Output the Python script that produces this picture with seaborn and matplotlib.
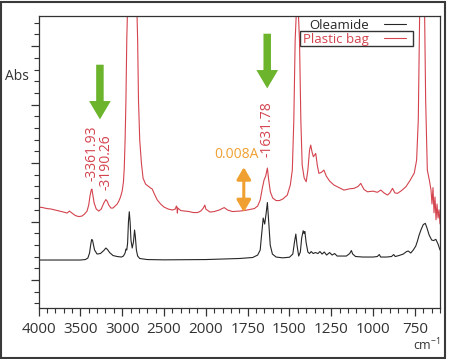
import numpy as np
import pandas as pd
import seaborn as sns
import matplotlib
import matplotlib.pyplot as plt
from matplotlib.patches import Rectangle

matplotlib.use('Agg')

# Spectra: wavenumber (cm-1) and absorbance in mA (x 1e-3)
oleamide_wn = [4000, 3500, 3440, 3410, 3390, 3375, 3365, 3355, 3345, 3330, 3300, 3260,
               3220, 3195, 3175, 3150, 3110, 3060, 3010, 2985, 2965, 2955, 2945, 2935,
               2925, 2915, 2905, 2895, 2880, 2865, 2852, 2843, 2830, 2815, 2790, 2700,
               2500, 2000, 1900, 1800, 1720, 1690, 1675, 1665, 1657, 1648, 1640, 1632,
               1624, 1615, 1602, 1580, 1540, 1500, 1480, 1470, 1462, 1455, 1445, 1435,
               1427, 1418, 1413, 1408, 1400, 1390, 1380, 1370, 1358, 1345, 1330, 1318,
               1305, 1292, 1278, 1260, 1245, 1230, 1215, 1190, 1160, 1140, 1130, 1122,
               1105, 1060, 1000, 975, 963, 955, 920, 890, 877, 868, 845, 820, 800, 790,
               775, 760, 745, 735, 725, 712, 700, 688, 678, 665, 650, 638, 625, 612, 600]
oleamide_abs = [3.42, 3.42, 3.50, 3.76, 4.62, 6.15, 6.92, 6.84, 6.15, 5.13, 4.44, 4.53,
                5.04, 5.47, 5.21, 4.70, 4.19, 4.02, 3.93, 4.10, 4.62, 5.30, 5.13, 6.32,
                9.91, 11.68, 9.91, 6.84, 5.47, 6.50, 8.55, 7.52, 5.13, 4.10, 3.68, 3.50,
                3.45, 3.50, 3.59, 3.68, 3.85, 4.27, 5.13, 8.21, 10.60, 9.57, 11.28, 13.25,
                9.91, 5.98, 4.44, 3.93, 3.79, 3.90, 4.44, 6.50, 7.86, 5.98, 4.10, 4.79,
                7.18, 8.43, 7.95, 8.29, 6.32, 4.79, 4.53, 4.87, 4.53, 4.70, 4.53, 4.87,
                4.44, 4.79, 4.27, 4.70, 4.27, 4.53, 4.10, 4.10, 4.10, 4.53, 5.04, 4.44,
                4.02, 3.93, 3.93, 4.02, 4.36, 3.93, 3.93, 4.02, 4.36, 4.02, 4.19, 4.44,
                4.87, 4.96, 4.62, 5.13, 5.81, 6.67, 7.69, 8.72, 9.49, 9.69, 8.89, 7.69,
                6.84, 6.75, 6.96, 6.15, 5.13]

bag_wn = [4000, 3950, 3900, 3850, 3800, 3750, 3700, 3660, 3630, 3600, 3560, 3520, 3480,
          3450, 3420, 3400, 3385, 3370, 3362, 3350, 3335, 3310, 3280, 3250, 3220, 3195,
          3180, 3160, 3135, 3110, 3085, 3060, 3040, 3020, 3000, 2985, 2975, 2965, 2955,
          2945, 2938, 2900, 2860, 2822, 2815, 2805, 2790, 2770, 2750, 2720, 2690, 2660,
          2640, 2620, 2580, 2540, 2500, 2450, 2400, 2365, 2352, 2345, 2340, 2335, 2300,
          2250, 2200, 2150, 2100, 2060, 2030, 2012, 2000, 1975, 1950, 1920, 1890, 1870,
          1840, 1800, 1770, 1740, 1710, 1690, 1675, 1662, 1652, 1642, 1632, 1624, 1614,
          1600, 1580, 1560, 1540, 1513, 1495, 1483, 1474, 1466, 1460, 1446, 1440, 1432,
          1424, 1412, 1400, 1390, 1380, 1373, 1365, 1357, 1343, 1333, 1324, 1310, 1294,
          1280, 1260, 1234, 1210, 1174, 1140, 1114, 1090, 1074, 1055, 1034, 1000, 975,
          954, 935, 914, 900, 884, 870, 854, 830, 804, 780, 754, 740, 730, 722, 692, 686,
          676, 664, 654, 648, 642, 636, 630, 624, 618, 612, 606, 600]
bag_abs = [12.48, 12.39, 12.22, 12.14, 11.97, 11.79, 11.62, 11.45, 11.79, 11.45, 11.03,
           10.85, 10.94, 11.28, 11.79, 12.82, 14.36, 15.38, 15.56, 14.53, 13.16, 12.14,
           11.79, 12.14, 13.16, 13.76, 13.50, 12.82, 12.31, 12.31, 12.65, 12.99, 13.50,
           14.19, 15.21, 16.75, 19.15, 23.93, 30.77, 41.03, 45.1, 45.1, 45.1, 45.1, 41.0,
           30.8, 23.9, 20.0, 17.4, 16.4, 16.07, 15.73, 15.56, 14.87, 13.68, 12.99, 12.48,
           12.14, 11.97, 12.14, 12.65, 12.48, 11.45, 12.31, 11.88, 11.79, 11.71, 11.54,
           11.54, 11.79, 12.31, 12.82, 12.14, 11.62, 11.71, 11.97, 12.39, 11.97, 11.71,
           11.79, 11.88, 12.05, 12.22, 12.65, 13.68, 15.73, 17.09, 17.78, 19.15, 17.09,
           15.04, 14.02, 13.59, 13.59, 13.85, 14.53, 16.24, 18.80, 27.35, 41.0, 45.1,
           45.1, 41.0, 27.35, 19.66, 17.44, 16.81, 18.80, 22.22, 23.08, 21.88, 21.08,
           21.66, 19.5, 18.24, 18.4, 18.80, 17.78, 16.92, 16.24, 15.9, 15.38, 15.6, 15.68,
           16.0, 16.53, 15.5, 15.09, 15.2, 15.0, 15.38, 14.9, 14.53, 14.9, 15.68, 14.9,
           14.82, 15.3, 15.95, 17.0, 18.3, 20.5, 27.4, 45.1, 45.1, 30.8, 18.8, 17.1, 15.4,
           13.0, 15.8, 11.5, 14.2, 10.3, 13.0, 10.6, 12.0, 9.6]

legend_labels = ['Oleamide', 'Plastic bag']
peak_labels = ['-3361.93', '-3190.26', '-1631.78']
peak_wn = [3362, 3190, 1632]
peak_label_abs = [16.9, 15.4, 21.0]
major_ticks = [4000, 3500, 3000, 2500, 2000, 1750, 1500, 1250, 1000, 750]

red = '#d4434e'
dark = '#262626'
green = '#6cb42c'
orange = '#f0a030'

sns.set_theme(style='ticks')
plt.rcParams['font.family'] = ['Open Sans', 'DejaVu Sans']

df = pd.concat([
    pd.DataFrame({'wn': oleamide_wn, 'A': np.array(oleamide_abs) / 1000, 'sample': 'Oleamide'}),
    pd.DataFrame({'wn': bag_wn, 'A': np.array(bag_abs) / 1000, 'sample': 'Plastic bag'}),
])

fig = plt.figure(figsize=(4.5, 3.59), dpi=100)
ax = fig.add_axes([0.0856, 0.142, 0.893, 0.813])


# FTIR style axis: region below 2000 cm-1 is expanded x2
def fwd(x):
    x = np.asarray(x, dtype=float)
    return np.where(x >= 2000, x, 2 * x - 2000)


def inv(x):
    x = np.asarray(x, dtype=float)
    return np.where(x >= 2000, x, (x + 2000) / 2)


ax.set_xscale('function', functions=(fwd, inv))

sns.lineplot(data=df, x='wn', y='A', hue='sample', palette=[dark, red],
             estimator=None, sort=False, lw=0.8, ax=ax, legend=False)

ax.set_xlim(4000, 598)
ax.set_ylim(-0.00479, 0.04513)
ax.set_xticks(major_ticks)
ax.set_xticklabels([str(t) for t in major_ticks])
minors = [t for t in list(range(3900, 2000, -100)) + list(range(1950, 599, -50))
          if t not in major_ticks]
ax.set_xticks(minors, minor=True)
ax.set_yticks(np.arange(0, 0.045, 0.01))
ax.set_yticks(np.arange(-0.004, 0.045, 0.002), minor=True)
ax.set_yticklabels([])
ax.tick_params(axis='both', which='major', length=6, width=0.9, color='#333333',
               direction='out', labelsize=11, labelcolor='#333333', pad=4)
ax.tick_params(axis='both', which='minor', length=3.5, width=0.8, color='#333333',
               direction='out')
for s in ax.spines.values():
    s.set_color('#333333')
    s.set_linewidth(0.9)

ax.set_xlabel('cm$^{\\mathregular{-1}}$', loc='right', fontsize=9, labelpad=0,
              color='#333333')
ax.set_ylabel('')
fig.text(0.012, 0.788, 'Abs', fontsize=10, color='#333333', va='center')

# legend: label first, line after
handles = [plt.Line2D([], [], color=dark, lw=0.8), plt.Line2D([], [], color=red, lw=0.8)]
leg = ax.legend(handles, legend_labels, loc='upper right', bbox_to_anchor=(0.928, 1.01),
                frameon=False, markerfirst=False, fontsize=9.5, handlelength=1.7,
                labelspacing=0.12, borderaxespad=0, handletextpad=1.1,
                labelcolor=[dark, red])
ax.add_patch(Rectangle((0.650, 0.897), 0.283, 0.052, transform=ax.transAxes,
                       fill=False, ec='#333333', lw=1, clip_on=False))

# peak labels
for lab, x, y in zip(peak_labels, peak_wn, peak_label_abs):
    ax.text(x, y / 1000, lab, rotation=90, color=red, fontsize=10,
            ha='center', va='bottom')

# green arrows
for x, y0, y1 in [(3266, 0.0373, 0.0270), (1633, 0.0426, 0.0323)]:
    ax.annotate('', xy=(x, y1), xytext=(x, y0),
                arrowprops=dict(arrowstyle='simple,head_length=1.1,head_width=1.3,tail_width=0.45',
                                fc=green, ec='none'))

# orange double arrow
ax.annotate('', xy=(1773, 0.0116), xytext=(1773, 0.0193),
            arrowprops=dict(arrowstyle='<|-|>,head_length=0.6,head_width=0.35',
                            color=orange, lw=2.2, shrinkA=0, shrinkB=0))
ax.text(1817, 0.0215, '0.008A', color=orange, fontsize=10, ha='center', va='center')

fig.add_artist(Rectangle((0.003, 0.004), 0.986, 0.99, transform=fig.transFigure,
                         fill=False, ec='#3a3a3a', lw=1.5))

fig.savefig('out.png', dpi=100)
